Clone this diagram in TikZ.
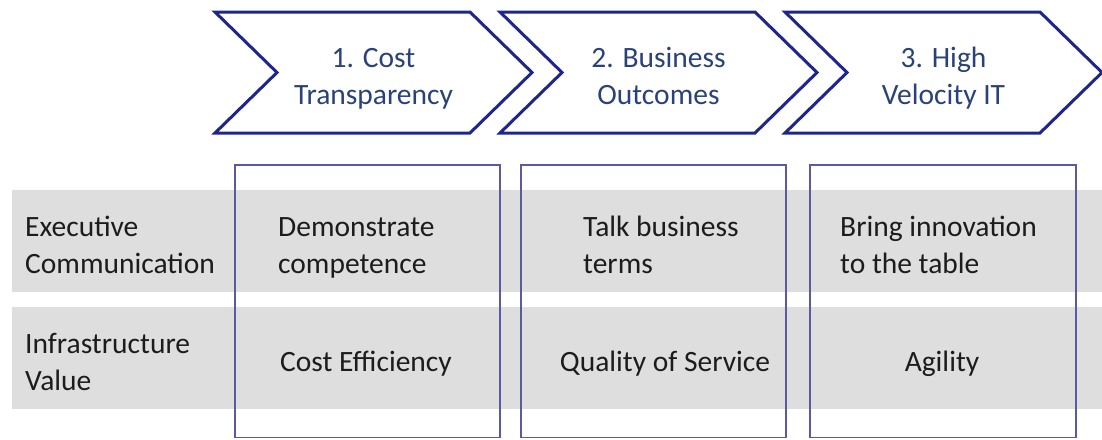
\documentclass[tikz,border=0pt]{standalone}
\usepackage{fontspec}
\setmainfont{Carlito}
\usetikzlibrary{positioning}

\definecolor{chevblue}{RGB}{30,38,140}
\definecolor{chevtext}{RGB}{42,66,122}
\definecolor{boxline}{RGB}{90,90,160}
\definecolor{bandgray}{RGB}{222,222,222}
\definecolor{cellink}{RGB}{28,28,28}

\begin{document}
\begin{tikzpicture}[x=1pt, y=-1pt,
  every node/.style={font=\fontsize{29.5}{37}\selectfont, inner sep=0pt},
  chevron/.style={draw=chevblue, line width=3pt, fill=white, line join=miter},
  steptext/.style={text=chevtext, align=center, anchor=base},
  band/.style={fill=bandgray},
  column/.style={draw=boxline, line width=1.4pt},
  rowlabel/.style={text=cellink, align=left, anchor=base west},
  cell/.style={text=cellink, align=left, anchor=base west}]
  \useasboundingbox (0,0) rectangle (1102,439);

  % grey rows
  \fill[band] (12,190) rectangle (1102,292);
  \fill[band] (12,307) rectangle (1102,409);

  % chevrons (base = last line)
  \foreach \x/\name/\txt in {215/cost/{1. Cost\\Transparency},
                             500/business/{2. Business\\Outcomes},
                             785/velocity/{3. High\\Velocity IT}} {
    \draw[chevron] (\x,12) -- ++(255,0) -- ++(62,60.5) -- ++(-62,60.5)
      -- ++(-255,0) -- ++(62,-60.5) -- cycle;
    \node[steptext] (\name) at (\x+158.5,104) {\txt};
  }

  % columns
  \draw[column] (235,165) rectangle (500,437.5);
  \draw[column] (521,165) rectangle (786,437.5);
  \draw[column] (810,165) rectangle (1076,437.5);

  % row labels
  \node[rowlabel] (exec) at (25,273) {Executive\\Communication};
  \node[rowlabel] (infra) at (25,390) {Infrastructure\\Value};

  % cells
  \node[cell] (demo) at (278,273) {Demonstrate\\competence};
  \node[cell] (talk) at (583,273) {Talk business\\terms};
  \node[cell] (bring) at (840,273) {Bring innovation\\to the table};
  \node[cell, anchor=base] (effic) at (366,371) {Cost Efficiency};
  \node[cell, anchor=base] (quality) at (665,371) {Quality of Service};
  \node[cell, anchor=base] (agility) at (942,371) {Agility};
\end{tikzpicture}
\end{document}
